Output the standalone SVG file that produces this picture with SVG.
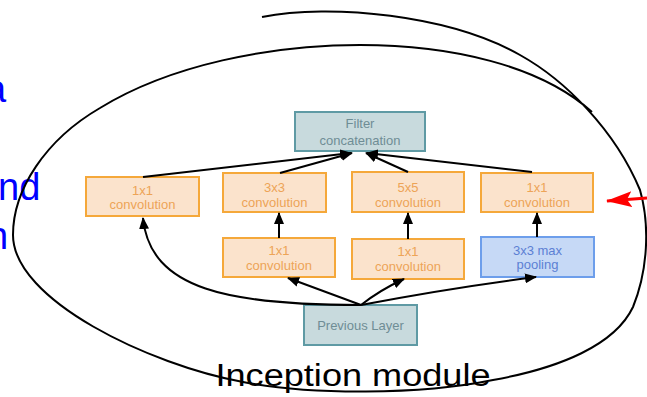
<svg xmlns="http://www.w3.org/2000/svg" width="647" height="397" viewBox="0 0 647 397">
<defs>
<style>
.conv rect{fill:#fbe3cc;stroke:#f5a83a;stroke-width:2}
.conv text{fill:#eda457}
.gray rect{fill:#c8dadd;stroke:#5f9aa4;stroke-width:2}
.gray text{fill:#6f8d95}
.pool rect{fill:#c6d9f6;stroke:#6d9eeb;stroke-width:2}
.pool text{fill:#5c80d4}
text{font-family:"Liberation Sans",Arial,sans-serif;font-size:13px;text-anchor:middle}
.side{font-size:38px;fill:#0000ff;text-anchor:start}
.conn path{fill:none;stroke:#000;stroke-width:2}
</style>
<marker id="ah" markerUnits="userSpaceOnUse" markerWidth="12" markerHeight="10" refX="11" refY="5" orient="auto">
<path d="M0,0 L12,5 L0,10 Z" fill="#000"/>
</marker>
<marker id="rh" markerUnits="userSpaceOnUse" markerWidth="26" markerHeight="16" refX="25" refY="8" orient="auto">
<path d="M0,0 L26,8 L0,16 L5,8 Z" fill="#ff0000"/>
</marker>
</defs>
<rect width="647" height="397" fill="#fff"/>
<text class="side" x="-15" y="102">a</text>
<text class="side" x="-2" y="200">nd</text>
<text class="side" x="-13" y="249">n</text>

<g id="filter" class="gray"><rect x="295" y="112" width="130" height="39"/><text x="360" y="128">Filter</text><text x="360" y="145">concatenation</text></g>
<g id="conv1a" class="conv"><rect x="86" y="177" width="113" height="39"/><text x="142.5" y="195">1x1</text><text x="142.5" y="209">convolution</text></g>
<g id="conv3" class="conv"><rect x="223" y="173" width="103" height="39"/><text x="274.5" y="192">3x3</text><text x="274.5" y="207">convolution</text></g>
<g id="conv5" class="conv"><rect x="352" y="172" width="112" height="40"/><text x="408" y="192">5x5</text><text x="408" y="207">convolution</text></g>
<g id="conv1d" class="conv"><rect x="481" y="173" width="112" height="39"/><text x="537" y="192">1x1</text><text x="537" y="207">convolution</text></g>
<g id="conv1b" class="conv"><rect x="223" y="238" width="112" height="39"/><text x="279" y="255">1x1</text><text x="279" y="270">convolution</text></g>
<g id="conv1c" class="conv"><rect x="352" y="239" width="112" height="40"/><text x="408" y="256">1x1</text><text x="408" y="271">convolution</text></g>
<g id="pool" class="pool"><rect x="481" y="237" width="113" height="40"/><text x="537.5" y="255">3x3 max</text><text x="537.5" y="269">pooling</text></g>
<g id="prev" class="gray"><rect x="304" y="305" width="113" height="40"/><text x="360.5" y="330">Previous Layer</text></g>

<g id="connectors" class="conn">
<path d="M143,177 L351,153" marker-end="url(#ah)"/>
<path d="M280,173 L352,153" marker-end="url(#ah)"/>
<path d="M408,172 L366,153" marker-end="url(#ah)"/>
<path d="M532,172 L367,153" marker-end="url(#ah)"/>
<path d="M279,238 L279,213" marker-end="url(#ah)"/>
<path d="M408,239 L408,213" marker-end="url(#ah)"/>
<path d="M537,237 L537,213" marker-end="url(#ah)"/>
<path d="M361,305 C230,305 150,290 143,218" marker-end="url(#ah)"/>
<path d="M361,305 Q320,290 288,278" marker-end="url(#ah)"/>
<path d="M361,305 Q380,290 404,279" marker-end="url(#ah)"/>
<path d="M361,305 Q450,288 536,277" marker-end="url(#ah)"/>
</g>

<text x="353" y="386" style="font-size:31px;fill:#000" textLength="275" lengthAdjust="spacingAndGlyphs">Inception module</text>

<g id="annotation">
<path d="M262,17 C330,3 450,15 520,55 C565,80 615,130 640,190 C650,225 648,270 633,307 C615,345 560,368 493,380 C420,395 310,395 243,382 C150,365 13,300 13,235 C13,190 45,140 100,108 C170,65 270,45 360,45 C450,45 540,65 592,112" fill="none" stroke="#000" stroke-width="2"/>
<path d="M647,198 L607,201" stroke="#ff0000" stroke-width="3" fill="none" marker-end="url(#rh)"/>
</g>
</svg>
